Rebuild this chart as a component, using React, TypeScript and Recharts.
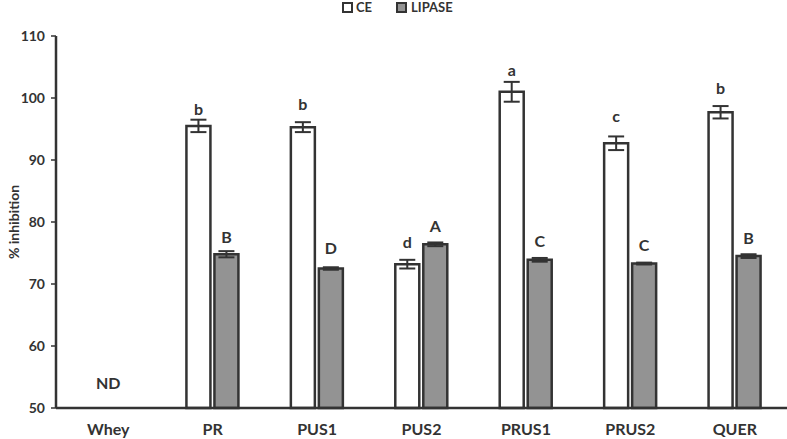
import React from 'react';
import { BarChart, Bar, XAxis, YAxis, ErrorBar, LabelList, ReferenceDot } from 'recharts';

const categories = ['Whey', 'PR', 'PUS1', 'PUS2', 'PRUS1', 'PRUS2', 'QUER'];
const ceValues: (number | null)[] = [null, 95.5, 95.3, 73.2, 101.0, 92.7, 97.7];
const ceErrors: (number | null)[] = [null, 1.0, 0.8, 0.7, 1.6, 1.1, 1.0];
const ceLetters: string[] = ['', 'b', 'b', 'd', 'a', 'c', 'b'];
const lipaseValues: (number | null)[] = [null, 74.8, 72.5, 76.4, 73.9, 73.3, 74.5];
const lipaseErrors: (number | null)[] = [null, 0.5, 0.2, 0.3, 0.3, 0.15, 0.3];
const lipaseLetters: string[] = ['', 'B', 'D', 'A', 'C', 'C', 'B'];
const yTicks = [50, 60, 70, 80, 90, 100, 110];

const data = categories.map((c, i) => ({
  name: c,
  ce: ceValues[i],
  ceErr: ceErrors[i],
  ceLetter: ceLetters[i],
  lipase: lipaseValues[i],
  lipaseErr: lipaseErrors[i],
  lipaseLetter: lipaseLetters[i],
}));

const FONT = 'Lato, "Open Sans", sans-serif';
const TXT = '#333333';
const PX_PER_UNIT = 6.2;

const makeLetter = (errs: (number | null)[]) => (props: any) => {
  const { x, y, width, value, index } = props;
  if (!value) return null;
  const e = errs[index] || 0;
  const top = y - e * PX_PER_UNIT;
  return (
    <text x={x + width / 2} y={top - 11} textAnchor="middle" fontFamily={FONT} fontWeight={700} fontSize={16} fill={TXT}>
      {value}
    </text>
  );
};

const LegendContent = () => (
  <div style={{ display: 'flex', alignItems: 'center', fontFamily: FONT, fontWeight: 700, fontSize: 13, color: TXT, lineHeight: '14px' }}>
    <span style={{ display: 'inline-block', width: 7, height: 7, border: '2px solid #333', background: '#fff', marginRight: 3 }} />
    <span style={{ marginRight: 24 }}>CE</span>
    <span style={{ display: 'inline-block', width: 7, height: 7, border: '2px solid #333', background: '#939393', marginRight: 4 }} />
    <span>LIPASE</span>
  </div>
);

export default function App() {
  return (
    <div style={{ position: 'absolute', left: 0, top: 0, width: 787, height: 439, background: '#fff' }}>
      <div style={{ position: 'absolute', left: 342, top: 0 }}>
        <LegendContent />
      </div>
      <BarChart
        width={787}
        height={439}
        data={data}
        margin={{ top: 36, right: 0, bottom: 3, left: 0 }}
        barSize={24}
        barGap={4}
      >
        <YAxis
          domain={[50, 110]}
          ticks={yTicks}
          width={56}
          axisLine={{ stroke: '#333', strokeWidth: 2.5 }}
          tickLine={{ stroke: '#333', strokeWidth: 1.5 }}
          tickSize={5}
          tickMargin={6}
          tick={{ fontFamily: FONT, fontWeight: 700, fontSize: 14, fill: TXT }}
          label={{ value: '% inhibition', angle: -90, position: 'insideLeft', offset: 14, style: { fontFamily: FONT, fontWeight: 700, fontSize: 14, fill: TXT, textAnchor: 'middle' } }}
        />
        <XAxis
          dataKey="name"
          height={28}
          axisLine={{ stroke: '#333', strokeWidth: 2.5 }}
          tickLine={false}
          tick={{ fontFamily: FONT, fontWeight: 700, fontSize: 16, fill: TXT }}
          tickMargin={10}
        />
        <Bar dataKey="ce" fill="#ffffff" stroke="#333" strokeWidth={2.5} isAnimationActive={false}>
          <ErrorBar dataKey="ceErr" width={8} stroke="#333" strokeWidth={2} />
          <LabelList dataKey="ceLetter" content={makeLetter(ceErrors)} />
        </Bar>
        <Bar dataKey="lipase" fill="#939393" stroke="#333" strokeWidth={2.5} isAnimationActive={false}>
          <ErrorBar dataKey="lipaseErr" width={8} stroke="#333" strokeWidth={2} />
          <LabelList dataKey="lipaseLetter" content={makeLetter(lipaseErrors)} />
        </Bar>
        <ReferenceDot
          x="Whey"
          y={54}
          r={0}
          fill="none"
          stroke="none"
          label={{ value: 'ND', position: 'center', style: { fontFamily: FONT, fontWeight: 700, fontSize: 16, fill: TXT } }}
        />
      </BarChart>
    </div>
  );
}
